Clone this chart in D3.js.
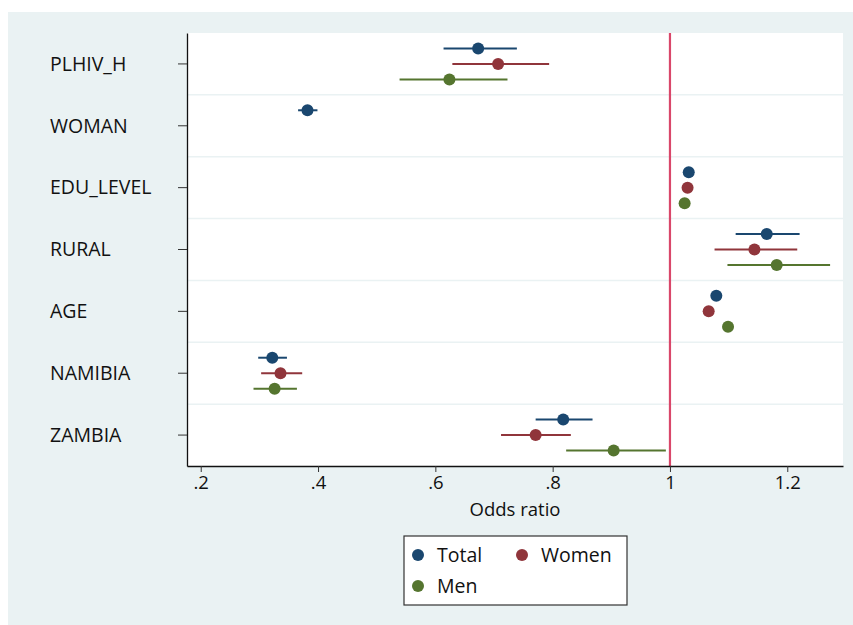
<!DOCTYPE html>
<html>
<head>
<meta charset="utf-8">
<script src="https://cdn.jsdelivr.net/npm/d3@7"></script>
<style>
  body { margin: 0; background: #fff; }
  svg text { font-family: "Open Sans", sans-serif; fill: #111; }
</style>
</head>
<body>
<svg id="chart" width="853" height="625"></svg>
<script>
// categories top to bottom
const categories = ["PLHIV_H", "WOMAN", "EDU_LEVEL", "RURAL", "AGE", "NAMIBIA", "ZAMBIA"]
const seriesNames = ["Total", "Women", "Men"]
const seriesColors = ["#1a476f", "#90353b", "#55752f"]

// odds ratios [estimate, lower, upper] per category, null when not estimated
const totalOR = [[0.673, 0.614, 0.739], [0.382, 0.366, 0.399], [1.032, 1.027, 1.037], [1.165, 1.112, 1.221], [1.079, 1.075, 1.083], [0.322, 0.298, 0.347], [0.818, 0.771, 0.868]]
const womenOR = [[0.707, 0.629, 0.794], null, [1.030, 1.025, 1.035], [1.144, 1.076, 1.217], [1.066, 1.062, 1.070], [0.336, 0.303, 0.373], [0.771, 0.712, 0.831]]
const menOR = [[0.624, 0.539, 0.723], null, [1.025, 1.020, 1.030], [1.182, 1.098, 1.273], [1.099, 1.095, 1.103], [0.326, 0.290, 0.364], [0.904, 0.823, 0.993]]

const xTicks = [0.2, 0.4, 0.6, 0.8, 1, 1.2]
const refLine = 1

const svg = d3.select("#chart")
const W = 853, H = 625

// outer stata-like background
svg.append("rect")
    .attr("x", 8).attr("y", 12)
    .attr("width", W - 8).attr("height", H - 12)
    .attr("fill", "#eaf2f3")

const plot = {left: 187, right: 843, top: 33, bottom: 466}

svg.append("rect")
    .attr("x", plot.left).attr("y", plot.top)
    .attr("width", plot.right - plot.left).attr("height", plot.bottom - plot.top)
    .attr("fill", "#fff")

const x = d3.scaleLinear()
    .domain([0.1766, 1.295])
    .range([plot.left, plot.right])

const y = d3.scaleBand()
    .domain(categories)
    .range([plot.top, plot.bottom])

const offset = d3.scalePoint()
    .domain(seriesNames)
    .range([-15.5, 15.5])

// gridlines between categories
svg.append("g")
    .selectAll("line")
    .data(categories.slice(1))
    .join("line")
    .attr("x1", plot.left).attr("x2", plot.right)
    .attr("y1", d => y(d)).attr("y2", d => y(d))
    .attr("stroke", "#eaf2f3")
    .attr("stroke-width", 1.5)

// reference line at OR = 1
svg.append("line")
    .attr("x1", x(refLine)).attr("x2", x(refLine))
    .attr("y1", plot.top).attr("y2", plot.bottom)
    .attr("stroke", "#d9476a")
    .attr("stroke-width", 2.2)

// axes
const yAxis = svg.append("g")
    .attr("transform", `translate(${plot.left},0)`)
    .call(d3.axisLeft(y).tickSize(9).tickSizeOuter(0).tickPadding(0).tickFormat(""))
yAxis.select(".domain").attr("stroke", "#111").attr("stroke-width", 1.3)
yAxis.selectAll(".tick line").attr("stroke", "#333").attr("stroke-width", 1)

svg.append("g")
    .selectAll("text")
    .data(categories)
    .join("text")
    .attr("x", 50)
    .attr("y", d => y(d) + y.bandwidth() / 2)
    .attr("dy", "0.35em")
    .attr("font-size", 19.5)
    .text(d => d)

const xAxis = svg.append("g")
    .attr("transform", `translate(0,${plot.bottom})`)
    .call(d3.axisBottom(x).tickValues(xTicks).tickSize(6).tickSizeOuter(0).tickPadding(4)
        .tickFormat(d => d3.format("")(d).replace(/^0\./, ".")))
xAxis.select(".domain").attr("stroke", "#111").attr("stroke-width", 1.3)
xAxis.selectAll(".tick line").attr("stroke", "#333")
xAxis.selectAll(".tick text")
    .attr("font-size", 18.5)
    .attr("font-family", "'Open Sans', sans-serif")
    .attr("fill", "#111")

svg.append("text")
    .attr("x", (plot.left + plot.right) / 2)
    .attr("y", 516)
    .attr("text-anchor", "middle")
    .attr("font-size", 18.5)
    .text("Odds ratio")

// series
const allSeries = [totalOR, womenOR, menOR]
allSeries.forEach((vals, si) => {
    const name = seriesNames[si]
    const rows = categories.map((c, i) => ({cat: c, v: vals[i]})).filter(d => d.v)
    const g = svg.append("g")
    const cy = d => y(d.cat) + y.bandwidth() / 2 + offset(name)
    g.selectAll("line")
        .data(rows)
        .join("line")
        .attr("x1", d => x(d.v[1])).attr("x2", d => x(d.v[2]))
        .attr("y1", cy).attr("y2", cy)
        .attr("stroke", seriesColors[si])
        .attr("stroke-width", 2)
    g.selectAll("circle")
        .data(rows)
        .join("circle")
        .attr("cx", d => x(d.v[0]))
        .attr("cy", cy)
        .attr("r", 6)
        .attr("fill", seriesColors[si])
})

// legend
const legend = svg.append("g").attr("transform", "translate(404,536)")
legend.append("rect")
    .attr("width", 223).attr("height", 69)
    .attr("fill", "#fff")
    .attr("stroke", "#333")
    .attr("stroke-width", 1.2)
const legPos = [[14, 19], [118, 19], [14, 50]]
seriesNames.forEach((name, i) => {
    const item = legend.append("g").attr("transform", `translate(${legPos[i][0]},${legPos[i][1]})`)
    item.append("circle").attr("r", 6).attr("fill", seriesColors[i])
    item.append("text")
        .attr("x", 19)
        .attr("dy", "0.35em")
        .attr("font-size", 19.5)
        .text(name)
})
</script>
</body>
</html>
